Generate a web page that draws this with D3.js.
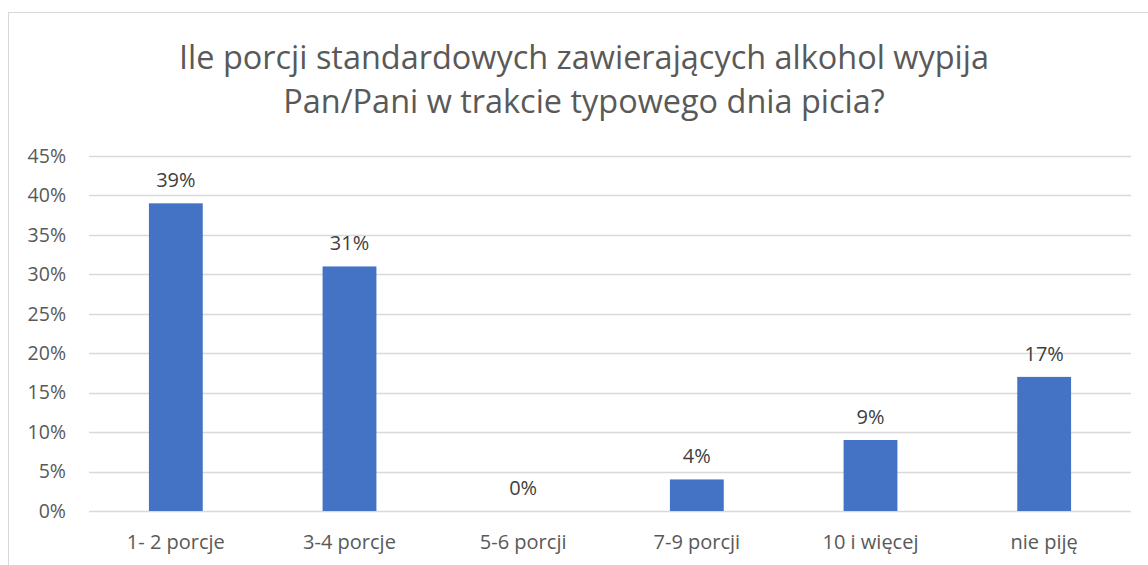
<!DOCTYPE html>
<html>
<head>
<meta charset="utf-8">
<script src="https://cdn.jsdelivr.net/npm/d3@7"></script>
<style>
  body { margin: 0; background: #fff; }
  svg { display: block; font-family: "Open Sans", "Liberation Sans", sans-serif; }
</style>
</head>
<body>
<svg id="chart" width="1148" height="565"></svg>
<script>
// chart data
var categories = ["1- 2 porcje", "3-4 porcje", "5-6 porcji", "7-9 porcji", "10 i więcej", "nie piję"];
var values = [0.39, 0.31, 0, 0.04, 0.09, 0.17];
var yTicks = [0, 0.05, 0.10, 0.15, 0.20, 0.25, 0.30, 0.35, 0.40, 0.45];
var titleLines = ["Ile porcji standardowych zawierających alkohol wypija", "Pan/Pani w trakcie typowego dnia picia?"];

var svg = d3.select("#chart");
var textColor = "#595959";

// outer frame (only top and left edges are visible)
svg.append("line").attr("x1", 8).attr("x2", 1148).attr("y1", 12.5).attr("y2", 12.5)
    .attr("stroke", "#d9d9d9");
svg.append("line").attr("x1", 8.5).attr("x2", 8.5).attr("y1", 12).attr("y2", 565)
    .attr("stroke", "#d9d9d9");

var x = d3.scaleBand().domain(categories).range([89, 1131]).paddingInner(0.69).paddingOuter(0.345);
var y = d3.scaleLinear().domain([0, 0.45]).range([511, 156]);

// gridlines
svg.append("g").selectAll("line").data(yTicks).enter().append("line")
    .attr("x1", 89).attr("x2", 1131)
    .attr("y1", function(d) { return Math.round(y(d)) + 0.5; })
    .attr("y2", function(d) { return Math.round(y(d)) + 0.5; })
    .attr("stroke", "#d9d9d9").attr("stroke-width", 1.3);

// y axis labels
var yAxis = d3.axisLeft(y).tickValues(yTicks).tickFormat(d3.format(".0%")).tickSize(0).tickPadding(0);
var yg = svg.append("g").attr("transform", "translate(66,0)").call(yAxis);
yg.select(".domain").remove();
yg.selectAll("text").attr("fill", textColor).style("font-size", "19.5px")
    .style("font-family", "Open Sans, Liberation Sans, sans-serif");

// bars
svg.append("g").selectAll("rect").data(values).enter().append("rect")
    .attr("x", function(d, i) { return x(categories[i]); })
    .attr("width", x.bandwidth())
    .attr("y", function(d) { return y(d); })
    .attr("height", function(d) { return y(0) - y(d); })
    .attr("fill", "#4472C4");

// value labels
svg.append("g").selectAll("text").data(values).enter().append("text")
    .attr("x", function(d, i) { return x(categories[i]) + x.bandwidth() / 2; })
    .attr("y", function(d) { return y(d) - 16; })
    .attr("text-anchor", "middle")
    .attr("fill", "#404040")
    .style("font-size", "20px")
    .text(function(d) { return d3.format(".0%")(d); });

// category labels
var xAxis = d3.axisBottom(x).tickSize(0).tickPadding(0);
var xg = svg.append("g").attr("transform", "translate(0,535)").call(xAxis);
xg.select(".domain").remove();
xg.selectAll("text").attr("fill", textColor).style("font-size", "20px")
    .style("font-family", "Open Sans, Liberation Sans, sans-serif");

// title
var title = svg.append("g");
title.selectAll("text").data(titleLines).enter().append("text")
    .attr("x", 584)
    .attr("y", function(d, i) { return 69 + i * 44; })
    .attr("text-anchor", "middle")
    .attr("fill", textColor)
    .style("font-size", "29px")
    .text(function(d) { return d; });

// shrink title so the first line is roughly as wide as in the original
var w = title.select("text").node().getComputedTextLength();
var fs = 29 * 810 / w;
title.selectAll("text").style("font-size", fs + "px");
</script>
</body>
</html>
